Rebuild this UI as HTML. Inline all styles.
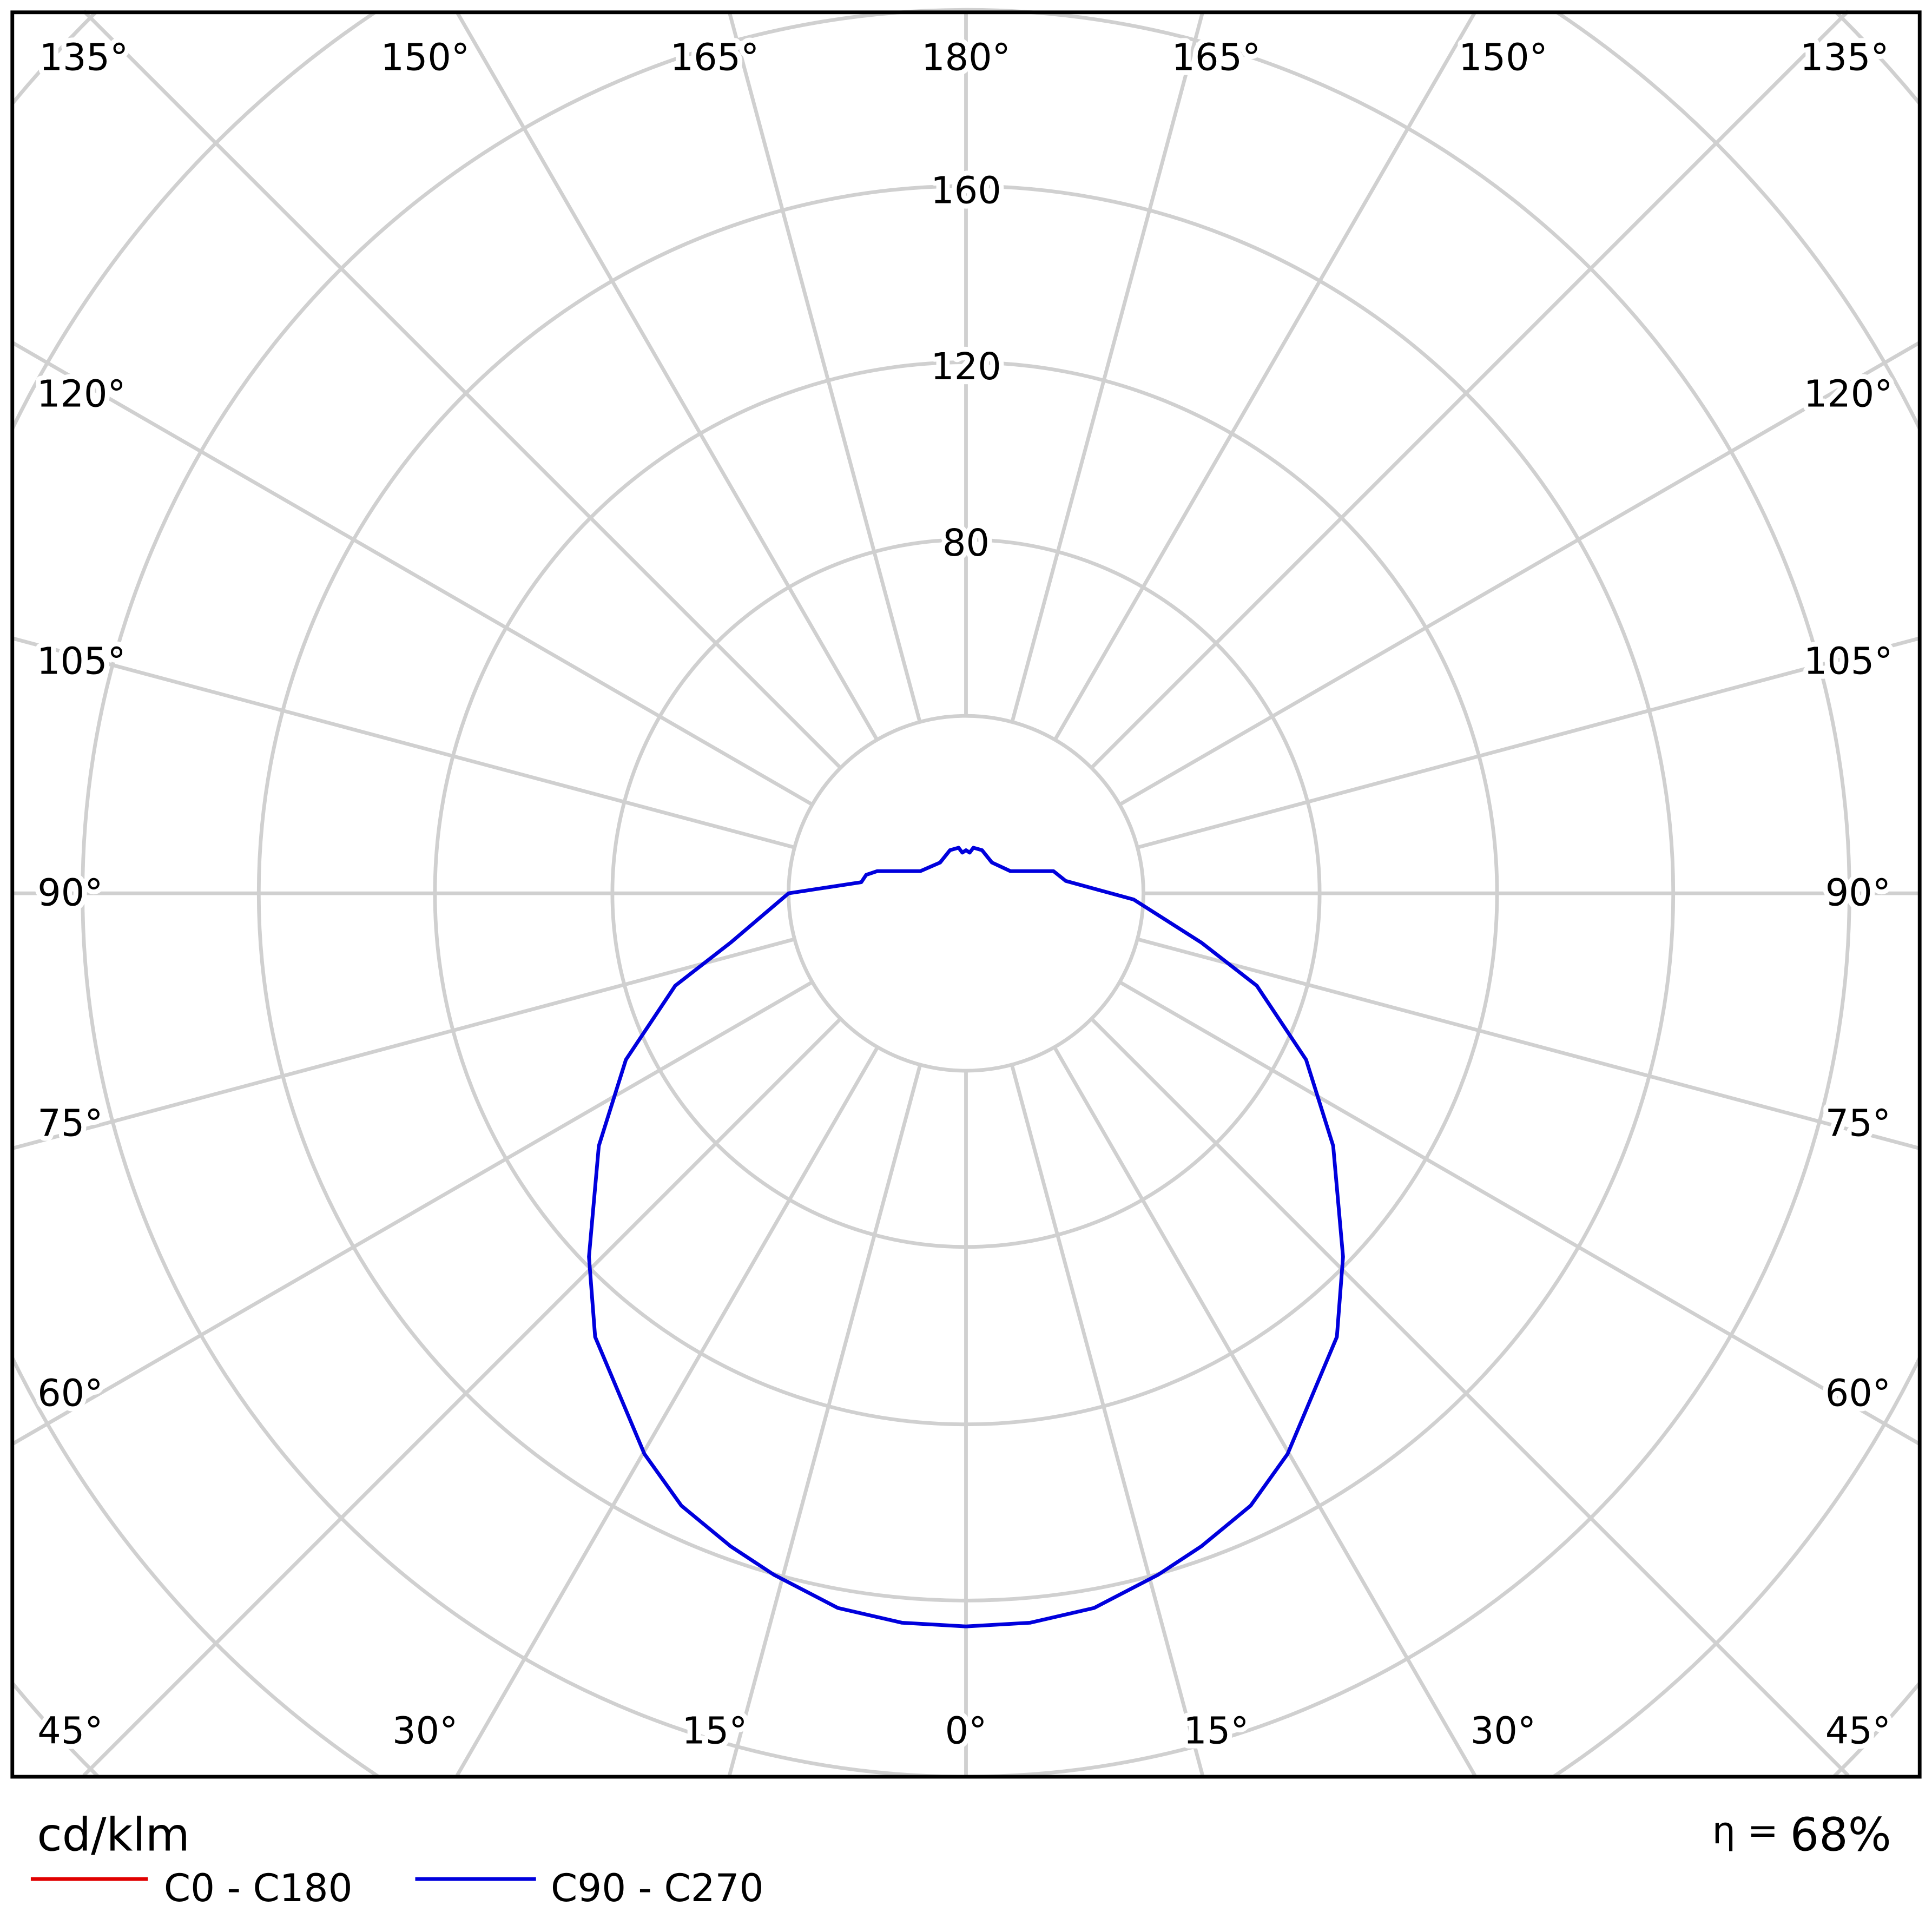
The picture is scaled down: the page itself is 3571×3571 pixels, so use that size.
<!DOCTYPE html>
<html><head><meta charset="utf-8"><style>
html,body{margin:0;padding:0;background:#fff;overflow:hidden;width:3571px;height:3571px;position:relative;}
svg{display:block;position:absolute;left:0;top:0;}
text{font-family:"DejaVu Sans","Liberation Sans",sans-serif;}
</style></head><body>
<svg width="3571" height="3571" viewBox="0 0 1568 1568" xmlns="http://www.w3.org/2000/svg">
<rect width="1568" height="1568" fill="#fff"/>
<g stroke="#d0d0d0" stroke-width="3" fill="none">
<circle cx="784" cy="725" r="287"/>
<circle cx="784" cy="725" r="431"/>
<circle cx="784" cy="725" r="574"/>
<circle cx="784" cy="725" r="717"/>
<path d="M304.3,10 A861,861 0 0 0 10,348 M10,1102 A861,861 0 0 0 307.3,1442 M1260.7,1442 A861,861 0 0 0 1558,1102 M1558,348 A861,861 0 0 0 1263.7,10"/>
<path d="M77.7,10 A1005,1005 0 0 0 10,84 M10,1366 A1005,1005 0 0 0 79.8,1442 M1488.2,1442 A1005,1005 0 0 0 1558,1366 M1558,84 A1005,1005 0 0 0 1490.3,10"/>
<line x1="784" y1="10" x2="784" y2="1442"/>
<line x1="592" y1="10" x2="976" y2="1441"/>
<line x1="976" y1="10" x2="592" y2="1441"/>
<line x1="371" y1="10" x2="1197" y2="1441"/>
<line x1="1197" y1="10" x2="371" y2="1441"/>
<line x1="68" y1="9" x2="1500" y2="1441"/>
<line x1="1500" y1="9" x2="68" y2="1441"/>
<line x1="10" y1="278" x2="1558" y2="1172"/>
<line x1="1558" y1="278" x2="10" y2="1172"/>
<line x1="10" y1="518" x2="1558" y2="932"/>
<line x1="1558" y1="518" x2="10" y2="932"/>
<line x1="10" y1="725" x2="1558" y2="725"/>
<circle cx="784" cy="725" r="144" fill="#fff"/>
</g>
<polygon fill="none" stroke="#0000dd" stroke-width="3" stroke-linejoin="round" points="
640,725 699,716 703,710 712,707 747,707 763,700 771,690 778,688 781,692 784,690 787,692 790,688 797,690 805,700 820,707 855,707 865,715 920,730 975,765 1020,800 1060,860 1082,930 1090,1020 1085,1085 1045,1180 1015,1222 975,1255 940,1278 888,1305 836,1317 784,1320 732,1317 680,1305 628,1278 593,1255 553,1222 523,1180 483,1085 478,1020 486,930 508,860 548,800 593,765"/>
<rect x="10" y="10" width="1548" height="1432" fill="none" stroke="#000" stroke-width="3"/>
<g font-size="30" fill="#000" text-anchor="middle" dominant-baseline="central" stroke="#fff" stroke-width="8" paint-order="stroke" stroke-linejoin="round">
<text x="784" y="155">160</text>
<text x="784" y="298">120</text>
<text x="784" y="441">80</text>
<text x="68" y="47">135°</text><text x="345" y="47">150°</text><text x="580" y="47">165°</text><text x="784" y="47">180°</text><text x="987" y="47">165°</text><text x="1220" y="47">150°</text><text x="1497" y="47">135°</text>
<text x="66" y="320">120°</text><text x="1500" y="320">120°</text>
<text x="66" y="537">105°</text><text x="1500" y="537">105°</text>
<text x="57" y="725">90°</text><text x="1508" y="725">90°</text>
<text x="57" y="912">75°</text><text x="1508" y="912">75°</text>
<text x="57" y="1131">60°</text><text x="1508" y="1131">60°</text>
<text x="57" y="1405">45°</text><text x="345" y="1405">30°</text><text x="580" y="1405">15°</text><text x="784" y="1405">0°</text><text x="987" y="1405">15°</text><text x="1220" y="1405">30°</text><text x="1508" y="1405">45°</text>
</g>
<text x="30" y="1502" font-size="37">cd/klm</text>
<text x="1535" y="1502" font-size="37" text-anchor="end"><tspan font-size="30" dy="-6">η = </tspan><tspan dy="6">68%</tspan></text>
<line x1="25" y1="1525" x2="120" y2="1525" stroke="#e00000" stroke-width="3"/>
<text x="133" y="1543" font-size="31">C0 - C180</text>
<line x1="337" y1="1525" x2="435" y2="1525" stroke="#0000dd" stroke-width="3"/>
<text x="447" y="1543" font-size="31">C90 - C270</text>
</svg>
</body></html>
